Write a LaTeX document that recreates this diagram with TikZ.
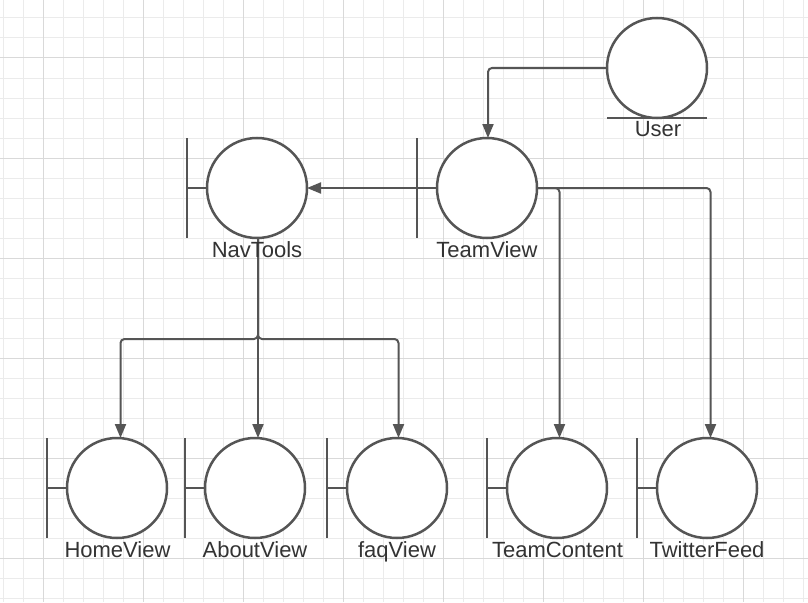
\documentclass[tikz,border=0pt]{standalone}
\usepackage{fontspec}
\setmainfont{Liberation Sans}
\usetikzlibrary{arrows.meta,calc}
\definecolor{shapecol}{HTML}{555555}
\definecolor{conncol}{HTML}{555555}
\definecolor{textcol}{HTML}{333333}
\definecolor{gridminor}{HTML}{EBEBEB}
\definecolor{gridmajor}{HTML}{D9D9D9}
\newcommand\bndbar[1]{%
  \draw[barline] ($(#1.west)+(-20,-50)$) -- ($(#1.west)+(-20,50)$);
  \draw[barline] ($(#1.west)+(-20,0)$) -- (#1.west);}
\begin{document}
\begin{tikzpicture}[x=1pt,y=-1pt,
  ent/.style={circle,draw=shapecol,line width=2.5pt,minimum size=100pt,inner sep=0pt,outer sep=0pt,fill=white},
  barline/.style={draw=shapecol,line width=2.5pt},
  conn/.style={draw=conncol,line width=2pt,rounded corners=4pt,-{Triangle[length=14pt,width=11pt]}},
  lbl/.style={text=textcol,font=\fontsize{22}{26}\selectfont,anchor=base,inner sep=0pt},
  minorgrid/.style={draw=gridminor,line width=1pt},
  majorgrid/.style={draw=gridmajor,line width=1pt}]
\useasboundingbox (0,0) rectangle (808,602);
\fill[white] (0,0) rectangle (808,602);
% grid
\foreach \x in {3,23,...,803} \draw[minorgrid] (\x,0) -- (\x,602);
\foreach \y in {18,38,...,598} \draw[minorgrid] (0,\y) -- (808,\y);
\foreach \x in {43,143,...,743} \draw[majorgrid] (\x,0) -- (\x,602);
\foreach \y in {58,158,...,558} \draw[majorgrid] (0,\y) -- (808,\y);
% entities
\node[ent] (user) at (657,68) {};
\node[ent] (team) at (487,188) {};
\node[ent] (nav) at (257,188) {};
\node[ent] (home) at (117,488) {};
\node[ent] (about) at (255,488) {};
\node[ent] (faq) at (397,488) {};
\node[ent] (tc) at (557,488) {};
\node[ent] (tf) at (707,488) {};
% actor underline
\draw[barline] ($(user.south)+(-50,0)$) -- ($(user.south)+(50,0)$);
% boundary bars
\bndbar{team}
\bndbar{nav}
\bndbar{home}
\bndbar{about}
\bndbar{faq}
\bndbar{tc}
\bndbar{tf}
\coordinate (teambar) at ($(team.west)+(-20,0)$);
% connectors
\draw[conn] (user.west) -| ([xshift=1pt]team.north);
\draw[conn] (teambar) -- (nav.east);
\draw[conn] (team.east) -| ([xshift=2.5pt]tc.north);
\draw[conn] (team.east) -| ([xshift=3.5pt]tf.north);
\draw[conn] ([xshift=1pt]nav.south) -- ++(0,101) -| ([xshift=3.5pt]home.north);
\draw[conn] ([xshift=1pt]nav.south) -- ([xshift=1pt]nav.south |- about.north);
\draw[conn] ([xshift=1pt]nav.south) -- ++(0,101) -| ([xshift=1.5pt]faq.north);
% labels
\node[lbl] (userl) at (658,136.5) {User};
\node[lbl] (teaml) at (487,257) {TeamView};
\node[lbl] (navl) at (257,257) {NavTools};
\node[lbl] (homel) at (117.5,557) {HomeView};
\node[lbl] (aboutl) at (255,557) {AboutView};
\node[lbl] (faql) at (397,557) {faqView};
\node[lbl] (tcl) at (557.5,557) {TeamContent};
\node[lbl] (tfl) at (707,557) {TwitterFeed};
\end{tikzpicture}
\end{document}
